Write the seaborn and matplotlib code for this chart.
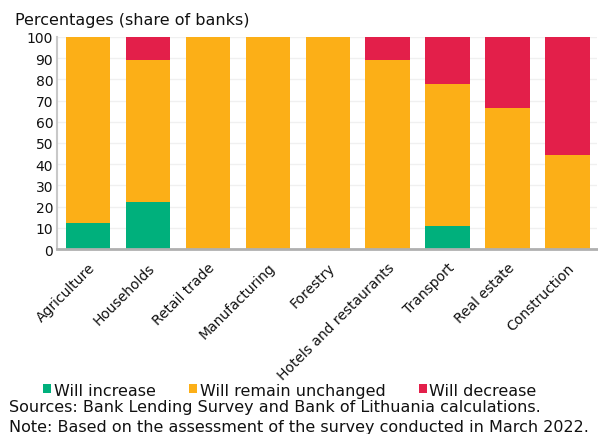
import numpy as np
import pandas as pd
import matplotlib
matplotlib.use("Agg")
import matplotlib.pyplot as plt
from matplotlib.patches import Patch
import seaborn as sns

categories = ["Agriculture", "Households", "Retail trade", "Manufacturing", "Forestry",
              "Hotels and restaurants", "Transport", "Real estate", "Construction"]
will_increase = [12.5, 22.2, 0, 0, 0, 0, 11.1, 0, 0]
will_remain = [87.5, 66.7, 100, 100, 100, 88.9, 66.7, 66.7, 44.4]
will_decrease = [0, 11.1, 0, 0, 0, 11.1, 22.2, 33.3, 55.6]
series_names = ["Will increase", "Will remain unchanged", "Will decrease"]
colors = ["#00B07C", "#FCAF17", "#E31F4A"]

sns.set_theme(style="white")
plt.rcParams["font.family"] = ["DejaVu Sans"]
plt.rcParams["text.color"] = "#111111"

fig = plt.figure(figsize=(5.98, 4.35), dpi=100)
ax = fig.add_axes([0.096, 0.425, 0.902, 0.488])

df = pd.DataFrame({"category": categories, "inc": will_increase,
                   "rem": will_remain, "dec": will_decrease})

# stack the three answer shares on top of each other
bottom = np.zeros(len(categories))
for col, name, c in zip(["inc", "rem", "dec"], series_names, colors):
    sns.barplot(data=df, x="category", y=col, color=c, width=0.74,
                bottom=bottom.copy(), ax=ax, saturation=1, linewidth=0)
    bottom += df[col].values

ax.set_ylim(0, 100)
ax.set_xlim(-0.51, 8.49)
ax.set_yticks(np.arange(0, 101, 10))
ax.set_xlabel("")
ax.set_ylabel("")
ax.yaxis.grid(True, color="#f0f0f0", linewidth=1)
ax.set_axisbelow(True)
for s in ["top", "right"]:
    ax.spines[s].set_visible(False)
ax.spines["left"].set_color("#c8c8c8")
ax.spines["left"].set_linewidth(1.5)
ax.spines["bottom"].set_color("#b0b0b0")
ax.spines["bottom"].set_linewidth(2)
ax.tick_params(axis="both", length=0, labelsize=10, colors="#111111", pad=3)
plt.setp(ax.get_xticklabels(), rotation=45, ha="right", rotation_mode="anchor")
ax.tick_params(axis="x", pad=8)

fig.text(0.025, 0.954, "Percentages (share of banks)", fontsize=11.5, va="center", ha="left")

handles = [Patch(facecolor=c, edgecolor="none", label=n) for c, n in zip(colors, series_names)]
fig.legend(handles=handles, loc="center", bbox_to_anchor=(0.485, 0.101), ncol=3,
           frameon=False, fontsize=11.5, handlelength=0.5, handleheight=0.5,
           handletextpad=0.15, columnspacing=2.1, borderaxespad=0, borderpad=0)

fig.text(0.015, 0.064, "Sources: Bank Lending Survey and Bank of Lithuania calculations.",
         fontsize=11.5, va="center", ha="left")
fig.text(0.015, 0.018, "Note: Based on the assessment of the survey conducted in March 2022.",
         fontsize=11.5, va="center", ha="left")

fig.savefig("out.png", dpi=100)
